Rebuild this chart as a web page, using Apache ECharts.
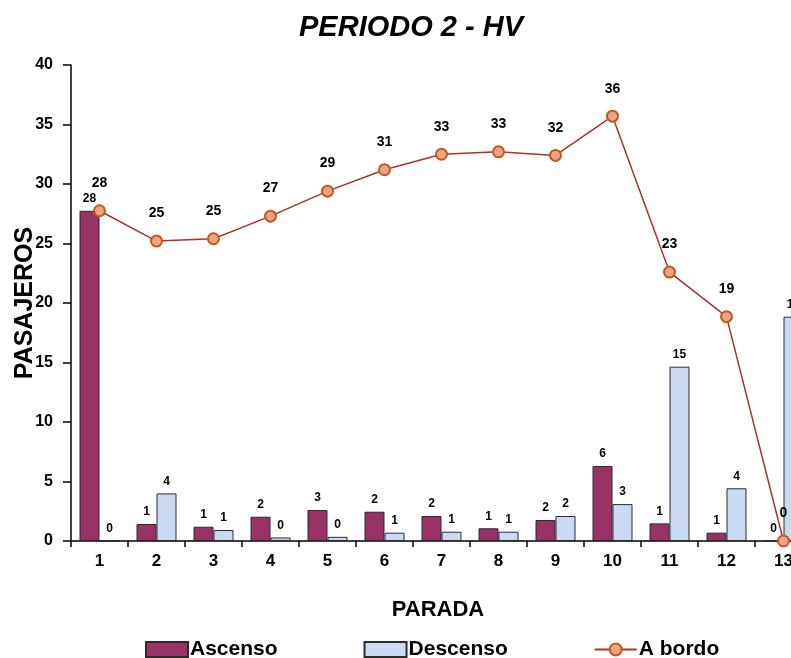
<!DOCTYPE html>
<html>
<head>
<meta charset="utf-8">
<script src="https://cdn.jsdelivr.net/npm/echarts@6/dist/echarts.min.js"></script>
<style>
  html, body { margin: 0; padding: 0; background: #fff; }
  #chart { width: 791px; height: 658px; }
</style>
</head>
<body>
<div id="chart"></div>
<script>
// Stops along the route
const paradas = ['1', '2', '3', '4', '5', '6', '7', '8', '9', '10', '11', '12', '13'];
// Average passengers boarding at each stop
const ascenso = [27.75, 1.43, 1.2, 2.04, 2.6, 2.46, 2.1, 1.07, 1.76, 6.3, 1.48, 0.7, 0];
// Average passengers alighting at each stop
const descenso = [0, 4.0, 0.92, 0.3, 0.35, 0.7, 0.78, 0.78, 2.1, 3.1, 14.65, 4.43, 18.85];
// Passengers on board after each stop
const aBordo = [27.75, 25.2, 25.4, 27.3, 29.4, 31.2, 32.5, 32.7, 32.4, 35.7, 22.6, 18.85, 0];
const yTicks = [0, 5, 10, 15, 20, 25, 30, 35, 40];

const FONT = '"Liberation Sans", Arial, sans-serif';
const rounded = p => String(Math.round(p.value));

const chart = echarts.init(document.getElementById('chart'), null, { renderer: 'canvas' });

chart.setOption({
  animation: false,
  backgroundColor: '#ffffff',
  title: [{
    text: 'PERIODO 2 - HV',
    left: 406,
    top: 8,
    textAlign: 'center',
    textStyle: { fontFamily: FONT, fontSize: 29, fontWeight: 'bold', fontStyle: 'italic', color: '#000' }
  }, {
    text: 'PARADA',
    left: 433,
    top: 594,
    textAlign: 'center',
    textStyle: { fontFamily: FONT, fontSize: 22, fontWeight: 'bold', color: '#000' }
  }],
  legend: {
    left: 140,
    top: 634,
    itemWidth: 42,
    itemHeight: 15,
    itemGap: 86,
    textStyle: { fontFamily: FONT, fontSize: 21, fontWeight: 'bold', color: '#000', padding: [0, 0, 0, -3] },
    data: [
      { name: 'Ascenso', icon: 'rect' },
      { name: 'Descenso', icon: 'rect' },
      { name: 'A bordo' }
    ]
  },
  grid: { left: 71, right: -21, top: 65, bottom: 117, outerBoundsMode: 'none', containLabel: false },
  xAxis: {
    type: 'category',
    data: paradas,
    axisLine: { lineStyle: { color: '#000', width: 1.5 } },
    axisTick: { show: true, length: 6, lineStyle: { color: '#000', width: 1.5 } },
    axisLabel: { margin: 12, fontFamily: FONT, fontSize: 17, fontWeight: 'bold', color: '#000' }
  },
  yAxis: {
    type: 'value',
    min: 0,
    max: 40,
    interval: 5,
    name: 'PASAJEROS',
    nameLocation: 'middle',
    nameRotate: 90,
    nameGap: 33,
    nameMoveOverlap: false,
    nameTextStyle: { fontFamily: FONT, fontSize: 25, fontWeight: 'bold', color: '#000' },
    axisLine: { show: true, lineStyle: { color: '#000', width: 1.5 } },
    axisTick: { show: true, length: 8, lineStyle: { color: '#000', width: 1.5 } },
    splitLine: { show: false },
    axisLabel: {
      margin: 18, fontFamily: FONT, fontSize: 16, fontWeight: 'bold', color: '#000',
      formatter: v => (yTicks.includes(v) ? String(v) : '')
    }
  },
  series: [{
    name: 'Ascenso',
    type: 'bar',
    data: ascenso,
    barWidth: 20,
    barGap: '0%',
    itemStyle: { color: '#993366', borderColor: '#2b2b2b', borderWidth: 1 },
    label: {
      show: true, position: 'top', distance: 6, formatter: rounded,
      fontFamily: FONT, fontSize: 12, fontWeight: 'bold', color: '#000'
    },
    z: 2
  }, {
    name: 'Descenso',
    type: 'bar',
    data: descenso,
    barWidth: 20,
    barGap: '0%',
    itemStyle: { color: '#c9daf2', borderColor: '#2b2b2b', borderWidth: 1 },
    label: {
      show: true, position: 'top', distance: 6, formatter: rounded,
      fontFamily: FONT, fontSize: 12, fontWeight: 'bold', color: '#000'
    },
    z: 2
  }, {
    name: 'A bordo',
    type: 'line',
    data: aBordo,
    symbol: 'circle',
    symbolSize: 11,
    lineStyle: { color: '#a8322d', width: 1.5 },
    itemStyle: { color: '#eaa38d', borderColor: '#c55a11', borderWidth: 2 },
    label: {
      show: true, position: 'top', distance: 14, formatter: rounded,
      fontFamily: FONT, fontSize: 14, fontWeight: 'bold', color: '#000'
    },
    z: 5
  }]
});
</script>
</body>
</html>
